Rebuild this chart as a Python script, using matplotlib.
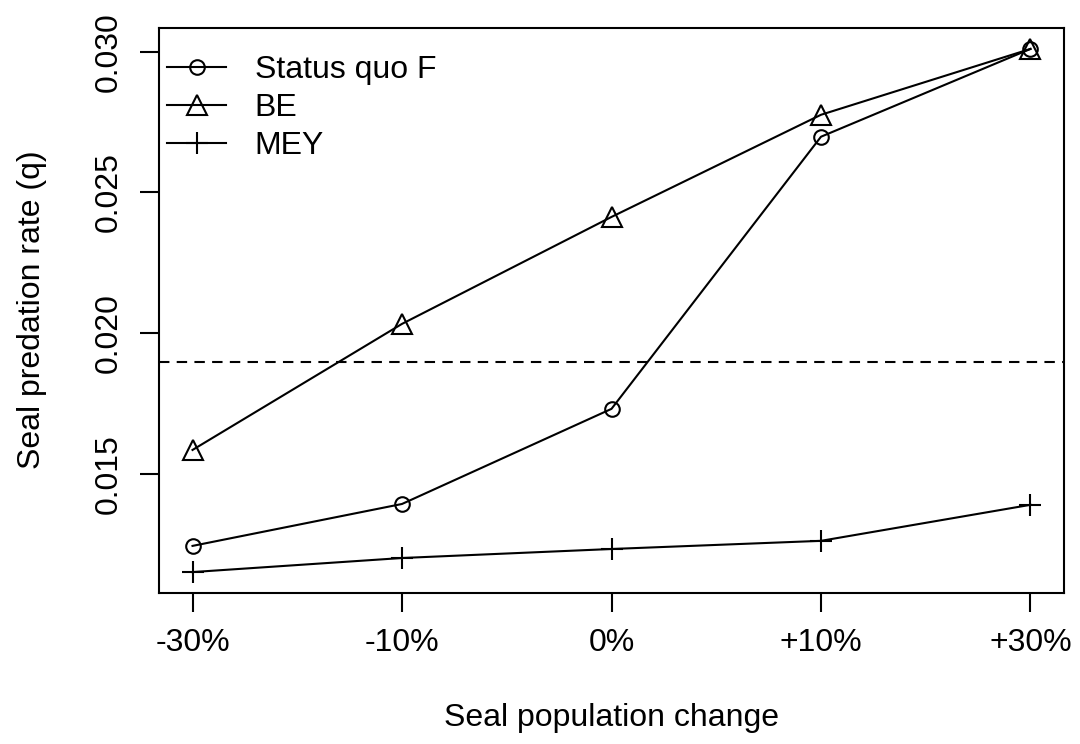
import matplotlib.pyplot as plt
import numpy as np

plt.rcParams['font.family'] = ['Liberation Sans', 'DejaVu Sans']

# scenarios on the x axis
changes = ["-30%", "-10%", "0%", "+10%", "+30%"]

# seal predation rate (q) per management scenario
status_quo = [0.01244, 0.01393, 0.01731, 0.02698, 0.03010]
be = [0.01585, 0.02033, 0.02413, 0.02776, 0.03010]
mey = [0.01151, 0.01201, 0.01233, 0.01262, 0.01390]

# reference level (dashed)
q_ref = 0.01897

yticks = [0.015, 0.020, 0.025, 0.030]

fs = 23
fig = plt.figure(figsize=(10.8, 7.44), dpi=100)
ax = fig.add_axes([159 / 1080, 1 - 593 / 744, 905 / 1080, 565 / 744])

x = np.arange(1, len(changes) + 1)
lw = 1.5
ax.plot(x, status_quo, color='black', lw=lw, marker='o', ms=10.5,
        mfc='none', mec='black', mew=lw, label='Status quo F')
ax.plot(x, be, color='black', lw=lw, marker='^', ms=14,
        mfc='none', mec='black', mew=lw, label='BE')
ax.plot(x, mey, color='black', lw=lw, marker='+', ms=16,
        mec='black', mew=lw, label='MEY')
ax.axhline(q_ref, color='black', lw=lw, dashes=(5, 3.5))

# R style 4% padding
allv = status_quo + be + mey
lo, hi = min(allv), max(allv)
pad = (hi - lo) * 0.04
ax.set_ylim(lo - pad, hi + pad)
ax.set_xlim(1 - 0.16, len(changes) + 0.16)

ax.set_xticks(x)
ax.set_xticklabels(changes, fontsize=fs)
ax.set_yticks(yticks)
ax.set_yticklabels([f"{v:.3f}" for v in yticks], fontsize=fs,
                   rotation=90, va='center')
ax.tick_params(axis='both', length=13.5, width=lw, direction='out', color='black')
ax.tick_params(axis='x', pad=12)
ax.tick_params(axis='y', pad=12)
for s in ax.spines.values():
    s.set_linewidth(lw)

fig.text(32 / 1080, 1 - 310 / 744, 'Seal predation rate (q)', rotation=90,
         ha='center', va='center', fontsize=fs)
fig.text(611 / 1080, 1 - 718 / 744, 'Seal population change',
         ha='center', va='center', fontsize=fs)

ax.legend(loc='upper left', bbox_to_anchor=(0.002, 0.964), frameon=False,
          fontsize=fs, handlelength=1.84, handletextpad=0.9,
          labelspacing=0.26, borderpad=0.2, borderaxespad=0)

fig.savefig('out.png', dpi=100)
